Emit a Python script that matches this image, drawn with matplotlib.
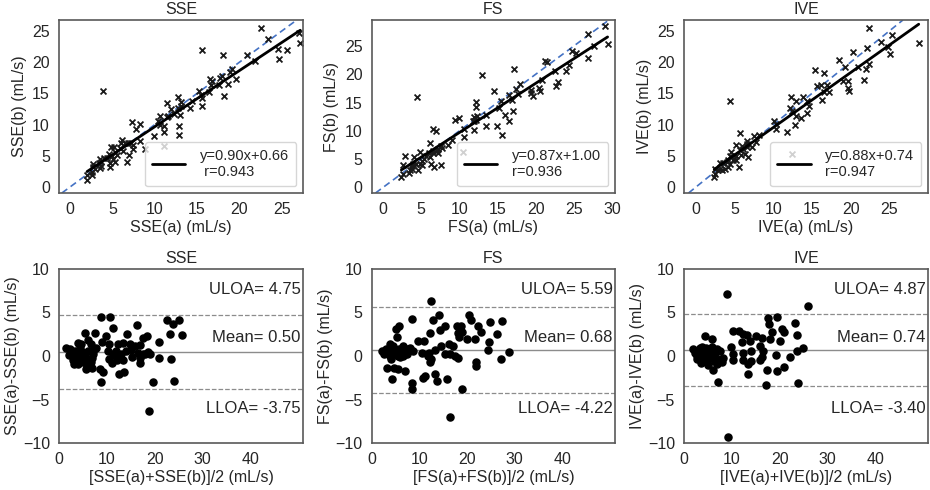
import numpy as np
import matplotlib
matplotlib.use("Agg")
import matplotlib.pyplot as plt
import seaborn as sns

sns.set_style("white")
plt.rcParams['font.family'] = ['Liberation Sans', 'DejaVu Sans']

# ---------------- data (Bland-Altman readings: mean, difference a-b) ----------------
methods = ["SSE", "FS", "IVE"]

sse_mean = [8.85, 10.6, 16.4, 11.3, 5.37, 7.46, 9.9, 14.3, 18.4, 17.6, 3.97, 4.67, 6.06, 6.76,
            9.06, 10.45, 12.3, 13.4, 14.9, 15.8, 16.9, 21.0, 1.53, 2.23, 3.28, 4.32, 5.37, 7.1,
            7.8, 10.3, 11.3, 12.0, 13.0, 14.1, 15.1, 16.5, 17.6, 19.0, 18.6, 2.9, 3.6, 4.3, 5.0,
            6.06, 6.76, 7.1, 8.5, 9.2, 5.6, 12.7, 13.4, 15.3, 16.9, 16.9, 17.9, 21.0, 23.5, 13.6,
            12.5, 8.85, 19.6, 24.0, 18.8, 22.6, 23.8, 25.1, 23.3, 25.8,
            2.5, 3.0, 3.5, 4.0, 4.5, 5.0, 5.5, 6.0, 6.5, 7.0, 3.2, 4.8, 5.8, 2.0, 3.8, 6.8,
            10.5, 11.0, 11.5, 12.2, 9.7]
sse_diff = [4.54, 4.54, 3.54, 3.19, 2.69, 2.69, 2.3, 2.5, 2.3, 2.1, 1.54, 1.35, 1.81, 1.35,
            1.65, 1.35, 1.42, 1.54, 1.35, 1.15, 1.27, 1.65, 0.96, 0.77, 0.58, 0.88, 0.38, 0.58,
            0.88, 0.58, 0.27, 0.58, 0.19, 0.58, 0.65, 0.38, 0.19, 0.19, 0.5, 0.0, -0.38, -0.58, 0.0,
            -0.38, -0.65, 0.19, -1.54, -1.8, -1.54, 0.0, -0.5, -0.12, -0.19, -0.77, 0.19, -0.19, -0.3, -1.8,
            -2.04, -3.0, -3.0, -2.9, -6.35, 4.15, 3.65, 4.15, 2.5, 2.4,
            0.3, -0.5, 0.2, -0.9, -0.2, -0.7, -0.3, 0.6, -1.0, -0.2, -0.9, 0.5, -1.1, 0.1, -0.3, -1.4,
            -0.3, -0.8, 0.1, -0.5, -11.5]

fs_mean = [12.4, 8.36, 12.9, 14.1, 20.3, 20.8, 22.3, 24.9, 27.4, 5.78, 5.1, 15.3, 14.4, 17.9,
           18.8, 12.2, 18.1, 19.0, 23.0, 26.3, 5.2, 9.76, 11.0, 18.3, 19.9, 21.6, 24.5, 3.83, 4.5,
           6.6, 8.0, 14.6, 16.2, 17.1, 2.1, 3.5, 4.9, 6.3, 7.3, 8.7, 10.45, 11.8, 13.2, 15.3, 16.4,
           17.4, 18.1, 24.4, 28.8, 4.2, 5.6, 7.0, 11.8, 12.2, 21.8, 21.8, 27.0, 3.3, 4.7, 5.6, 7.0,
           4.2, 10.7, 11.15, 13.2, 13.6, 15.8, 8.4, 8.5, 19.0, 16.4,
           2.5, 3.0, 3.8, 4.5, 5.2, 6.0, 6.8, 7.5, 5.8, 3.3, 4.0, 6.5, 12.5, 12.0, 10.15]
fs_diff = [6.27, 4.25, 4.18, 4.75, 4.75, 4.18, 3.42, 3.87, 4.06, 3.5, 3.1, 3.42, 3.04, 3.42,
           3.42, 2.66, 2.66, 2.77, 2.73, 2.58, 2.16, 1.78, 1.78, 2.16, 1.9, 1.97, 1.63, 1.4, 1.14,
           1.14, 0.95, 1.14, 1.33, 1.14, 0.57, 0.57, 0.38, 0.57, 0.76, 0.57, 0.38, 0.19, 0.64, 0.19, 0.19,
           0.0, -0.19, 0.64, 0.49, 0.19, 0.0, 0.26, 0.0, -0.65, -0.65, -1.14, -0.31, -1.34, -1.34, -1.45, -1.72,
           -2.59, -2.48, -2.29, -2.1, -2.93, -2.59, -3.05, -3.8, -3.8, -6.96,
           0.2, 0.8, 0.0, 0.6, 0.3, -0.1, 0.4, 0.2, 0.8, 0.4, -0.3, 0.0, -0.3, 0.3, -11.5]

ive_mean = [8.9, 25.9, 17.6, 19.4, 17.8, 23.2, 10.3, 11.4, 12.3, 13.1, 15.1, 16.2, 18.3, 20.4,
            21.0, 23.6, 18.0, 20.1, 4.4, 5.8, 12.1, 13.8, 15.9, 9.8, 24.9, 23.6, 1.95, 3.0, 3.7,
            4.7, 5.8, 6.8, 7.5, 12.3, 14.1, 16.6, 10.2, 3.0, 4.0, 5.1, 6.1, 2.65, 3.7, 4.7, 5.8,
            6.8, 7.9, 8.2, 10.3, 12.4, 13.4, 14.1, 15.9, 16.2, 19.2, 22.2, 5.1, 6.0, 13.4, 17.4,
            19.4, 21.0, 7.2, 17.1, 23.9, 9.1,
            2.3, 3.3, 4.2, 4.5, 5.5, 6.3, 3.5, 2.8, 5.0, 6.5, 7.0, 4.0]
ive_diff = [7.14, 5.8, 4.41, 4.53, 3.73, 3.77, 2.82, 2.82, 2.52, 2.41, 2.33, 2.07, 2.71, 3.09,
            2.71, 2.44, 1.95, 1.69, 2.33, 1.95, 1.57, 1.69, 1.2, 1.08, 0.93, 0.63, 0.82, 0.63, 1.0,
            0.89, 1.0, 0.82, 0.63, 0.32, 0.63, 0.63, 0.25, 0.25, 0.06, 0.25, 0.06, -0.32, -0.43, -0.51, -0.13,
            -0.32, -0.7, -0.21, -0.43, -0.51, -0.89, -0.59, -0.51, -0.13, 0.06, -0.13, -1.08, -1.57, -2.1, -1.65,
            -1.76, -1.27, -2.97, -3.35, -3.05, -9.36,
            0.4, 0.9, -0.2, 0.5, 0.6, -0.6, -0.8, 0.0, -0.2, 0.3, -0.9, 0.7]

# regression / agreement statistics shown in the chart
slopes = [0.90, 0.87, 0.88]
intercepts = [0.66, 1.00, 0.74]
r_values = [0.943, 0.936, 0.947]
r_prefix = [" ", "", ""]
bias = [0.50, 0.68, 0.74]
uloa = [4.75, 5.59, 4.87]
lloa = [-3.75, -4.22, -3.40]

means = [sse_mean, fs_mean, ive_mean]
diffs = [sse_diff, fs_diff, ive_diff]

# ---------------- layout ----------------
W, H = 930, 490
fig = plt.figure(figsize=(9.3, 4.9), dpi=100)

col_x = [(59, 303), (371.7, 615), (684, 928)]
top_y = (20, 193)
bot_y = (269, 443)

def rect(xs, ys):
    return [xs[0] / W, 1 - ys[1] / H, (xs[1] - xs[0]) / W, (ys[1] - ys[0]) / H]

top_xlim = [(-1.3, 27.5), (-1.5, 30.4), (-1.55, 30.0)]
top_ylim = [(-0.96, 26.76), (-1.0, 29.6), (-0.96, 26.76)]
top_xticks = [np.arange(0, 26, 5), np.arange(0, 31, 5), np.arange(0, 26, 5)]

FS = 11.5
tc = '0.15'
for i, name in enumerate(methods):
    m = np.array(means[i])
    d = np.array(diffs[i])
    a = m + d / 2
    b = m - d / 2

    # --- top: correlation ---
    ax = fig.add_axes(rect(col_x[i], top_y))
    ax.scatter(a, b, marker='x', s=18, color='0.1', linewidths=1.3, zorder=2)
    xs = np.array([a.min(), a.max()])
    ax.plot(xs, slopes[i] * xs + intercepts[i], color='black', lw=2.0, zorder=3,
            label=f"y={slopes[i]:.2f}x+{intercepts[i]:.2f}\n{r_prefix[i]}r={r_values[i]:.3f}")
    ax.axline((0, 0), slope=1, color='#4472c4', ls='--', lw=1.2, dashes=(4, 2.5), zorder=1)
    ax.set_xlim(*top_xlim[i])
    ax.set_ylim(*top_ylim[i])
    ax.set_xticks(top_xticks[i])
    ax.set_yticks(np.arange(0, 26, 5))
    ax.set_title(name, fontsize=FS, color=tc, pad=4)
    ax.set_xlabel(f"{name}(a) (mL/s)", fontsize=FS, color=tc, labelpad=2)
    ax.set_ylabel(f"{name}(b) (mL/s)", fontsize=FS, color=tc, labelpad=4)
    ax.tick_params(labelsize=FS, colors=tc, pad=3)
    for sp in ax.spines.values():
        sp.set_color('0.35')
        sp.set_linewidth(1.2)
    leg = ax.legend(loc='lower right', fontsize=10.5, handlelength=2.3, frameon=True,
                    borderaxespad=0.45, borderpad=0.5, handletextpad=1.0)
    for t in leg.get_texts():
        t.set_color(tc)

    # --- bottom: Bland-Altman ---
    bx = fig.add_axes(rect(col_x[i], bot_y))
    bx.scatter(m, d, s=26, color='black', zorder=3)
    bx.axhline(bias[i], color='0.55', lw=1.0, zorder=1)
    bx.axhline(uloa[i], color='0.55', lw=0.9, ls='--', zorder=1)
    bx.axhline(lloa[i], color='0.55', lw=0.9, ls='--', zorder=1)
    bx.set_xlim(0, 51)
    bx.set_ylim(-10, 10)
    bx.set_xticks(np.arange(0, 41, 10))
    bx.set_yticks(np.arange(-10, 11, 5))
    bx.text(0.99, 0.88, f"ULOA= {uloa[i]:.2f}", transform=bx.transAxes, ha='right', va='center',
            fontsize=12, color=tc)
    bx.text(0.99, 0.605, f"Mean= {bias[i]:.2f}", transform=bx.transAxes, ha='right', va='center',
            fontsize=12, color=tc)
    bx.text(0.99, 0.20, f"LLOA= {lloa[i]:.2f}", transform=bx.transAxes, ha='right', va='center',
            fontsize=12, color=tc)
    bx.set_title(name, fontsize=FS, color=tc, pad=4)
    bx.set_xlabel(f"[{name}(a)+{name}(b)]/2 (mL/s)", fontsize=FS, color=tc, labelpad=2)
    bx.set_ylabel(f"{name}(a)-{name}(b) (mL/s)", fontsize=FS, color=tc, labelpad=2)
    bx.tick_params(labelsize=FS, colors=tc, pad=3)
    for sp in bx.spines.values():
        sp.set_color('0.35')
        sp.set_linewidth(1.2)

fig.savefig("out.png", dpi=100)
